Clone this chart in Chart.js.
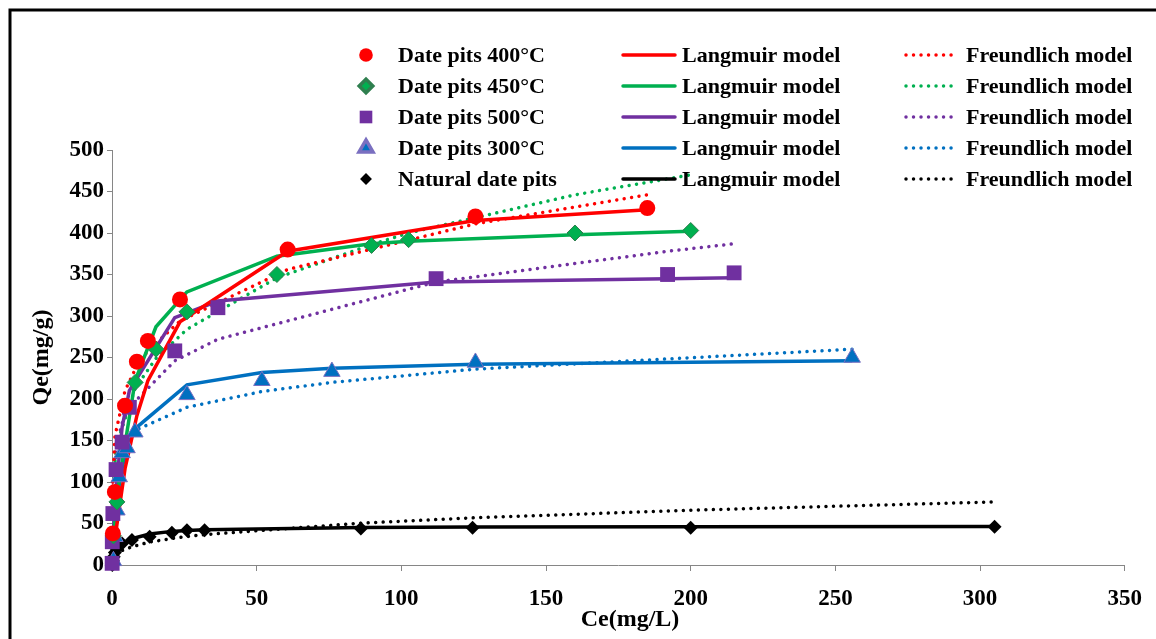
<!DOCTYPE html>
<html>
<head>
<title>Date pits adsorption isotherms</title>
<script src="https://cdn.jsdelivr.net/npm/chart.js"></script>
<style>
  body { margin: 0; background: #fff; }
  #wrap { width: 1156px; height: 639px; position: relative; }
</style>
</head>
<body>
<div id="wrap"><canvas id="plot"></canvas></div>
<script>
// series shown in the legend, row by row
const seriesNames = ['Date pits 400\u00B0C', 'Date pits 450\u00B0C', 'Date pits 500\u00B0C', 'Date pits 300\u00B0C', 'Natural date pits'];
const langLabel = 'Langmuir model';
const freuLabel = 'Freundlich model';

// Ce (mg/L) / Qe (mg/g), plus the two model curves at the same Ce
const ce400   = [0.3, 1, 4.5, 8.6, 12.4, 23.5, 60.7, 125.6, 185];
const qe400   = [38, 88, 192, 245, 270, 320, 380, 420, 430];
const lang400 = [10, 32, 116, 180, 222, 293, 378, 415, 428];
const freu400 = [100, 155, 210, 240, 258, 294, 356, 411, 446];

const ce450   = [0.5, 1.7, 8, 15.2, 25.9, 57, 89.7, 102.5, 160, 200];
const qe450   = [35, 76, 220, 260, 305, 350, 385, 392, 400, 403];
const lang450 = [29, 84, 222, 287, 329, 372, 387, 390, 398, 402];
const freu450 = [107, 146, 213, 249, 284, 346, 386, 400, 446, 470];

const ce500   = [0.05, 0.1, 0.3, 1.4, 3.5, 6, 21.7, 36.6, 112, 192, 215];
const qe500   = [2, 28, 62, 115, 148, 190, 258, 310, 345, 350, 352];
const lang500 = [4, 9, 25, 92, 166, 210, 298, 318, 341, 345, 346];
const freu500 = [73, 84, 105, 142, 171, 190, 246, 272, 341, 378, 387];

const ce300   = [0.5, 1, 1.7, 2.5, 3.5, 5.2, 7.9, 25.9, 51.8, 76, 125.6, 255.8];
const qe300   = [5, 34, 66, 106, 135, 141, 160, 205, 222, 233, 244, 250];
const lang300 = [28, 50, 74, 96, 117, 141, 164, 217, 232, 237, 242, 246];
const freu300 = [112, 123, 132, 138, 145, 153, 162, 190, 209, 220, 236, 260];

const ceNat   = [0.1, 0.3, 0.6, 1, 1.5, 3.5, 6.9, 13, 20.7, 25.9, 32, 86, 124.6, 200, 305];
const qeNat   = [0, 5, 10, 15, 20, 26, 30, 34, 39, 42, 42, 44, 45, 45, 46];
const langNat = [1.4, 3.9, 7.6, 10.8, 14.6, 23.5, 31.7, 37.4, 40.5, 41.6, 42.6, 45.2, 45.7, 46.2, 46.5];
const freuNat = [5.5, 7.9, 9.9, 11.7, 13.4, 17.5, 22, 27.6, 31.9, 34.3, 36.6, 50.4, 56.8, 66, 76];

const xTicks = [0, 50, 100, 150, 200, 250, 300, 350];
const yTicks = [0, 50, 100, 150, 200, 250, 300, 350, 400, 450, 500];

const colors = ['#FF0000', '#00B050', '#7030A0', '#0070C0', '#000000'];
const markers = [
  { style: 'circle',   r: 8,   border: '#FF0000', bw: 0 },
  { style: 'rectRot',  r: 8,   border: '#2f7f4f', bw: 1 },
  { style: 'rect',     r: 10.5, border: '#7030A0', bw: 0 },
  { style: 'triangle', r: 9.5, border: '#7a6fc0', bw: 1 },
  { style: 'rectRot',  r: 7,   border: '#000000', bw: 0 }
];

const ceAll   = [ce400, ce450, ce500, ce300, ceNat];
const qeAll   = [qe400, qe450, qe500, qe300, qeNat];
const langAll = [lang400, lang450, lang500, lang300, langNat];
const freuAll = [freu400, freu450, freu500, freu300, freuNat];

function pts(xs, ys) {
  return xs.map((x, i) => ({ x: x, y: ys[i] }));
}

const datasets = [];
// markers first so they are drawn on top
seriesNames.forEach((name, i) => {
  datasets.push({
    label: name,
    data: pts(ceAll[i], qeAll[i]),
    showLine: false,
    pointStyle: markers[i].style,
    pointRadius: markers[i].r,
    pointBackgroundColor: colors[i],
    pointBorderColor: markers[i].border,
    pointBorderWidth: markers[i].bw,
    clip: false
  });
});
seriesNames.forEach((name, i) => {
  datasets.push({
    label: langLabel,
    data: pts(ceAll[i], langAll[i]),
    showLine: true,
    borderColor: colors[i],
    borderWidth: 3.5,
    pointRadius: 0,
    tension: 0,
    clip: false
  });
});
seriesNames.forEach((name, i) => {
  datasets.push({
    label: freuLabel,
    data: pts(ceAll[i], freuAll[i]),
    showLine: true,
    borderColor: colors[i],
    borderWidth: 3.5,
    borderDash: [0.01, 7.5],
    borderCapStyle: 'round',
    pointRadius: 0,
    tension: 0,
    clip: false
  });
});

const serif = '"Liberation Serif", "Times New Roman", serif';

// frame, axis titles and the 3-column legend
const decor = {
  id: 'decor',
  beforeDraw(chart) {
    const ctx = chart.ctx;
    ctx.save();
    ctx.fillStyle = '#fff';
    ctx.fillRect(0, 0, chart.width, chart.height);
    ctx.strokeStyle = '#000';
    ctx.lineWidth = 3;
    ctx.beginPath();
    ctx.moveTo(10, chart.height);
    ctx.lineTo(10, 10);
    ctx.lineTo(chart.width, 10);
    ctx.stroke();
    ctx.restore();
  },
  afterDraw(chart) {
    const ctx = chart.ctx;
    const area = chart.chartArea;
    ctx.save();
    ctx.fillStyle = '#000';
    ctx.font = 'bold 24px ' + serif;
    ctx.textAlign = 'center';
    ctx.textBaseline = 'middle';
    ctx.fillText('Ce(mg/L)', 630, 620);
    ctx.translate(42, (area.top + area.bottom) / 2);
    ctx.rotate(-Math.PI / 2);
    ctx.fillText('Qe(mg/g)', 0, 0);
    ctx.restore();

    ctx.save();
    ctx.font = 'bold 22px ' + serif;
    ctx.textBaseline = 'middle';
    ctx.textAlign = 'left';
    seriesNames.forEach((name, i) => {
      const y = 55 + i * 31;
      const c = colors[i];
      const m = markers[i];
      ctx.fillStyle = c;
      ctx.strokeStyle = m.border;
      Chart.helpers.drawPoint(ctx, { pointStyle: m.style, radius: m.r * 0.85, borderWidth: m.bw, rotation: 0 }, 366, y);
      ctx.fillStyle = '#000';
      ctx.fillText(name, 398, y + 1);

      ctx.strokeStyle = c;
      ctx.lineWidth = 3.5;
      ctx.lineCap = 'round';
      ctx.setLineDash([]);
      ctx.beginPath();
      ctx.moveTo(623, y);
      ctx.lineTo(675, y);
      ctx.stroke();
      ctx.fillText(langLabel, 682, y + 1);

      ctx.setLineDash([0.01, 7.5]);
      ctx.beginPath();
      ctx.moveTo(906, y);
      ctx.lineTo(956, y);
      ctx.stroke();
      ctx.setLineDash([]);
      ctx.fillText(freuLabel, 966, y + 1);
    });
    ctx.restore();
  }
};

const axisGray = '#868686';
const tickFont = { family: serif, weight: 'bold', size: 23 };

new Chart(document.getElementById('plot'), {
  type: 'scatter',
  data: { datasets: datasets },
  options: {
    responsive: true,
    maintainAspectRatio: false,
    animation: false,
    layout: { padding: { top: 150, right: 30, left: 0, bottom: 0 } },
    plugins: {
      legend: { display: false },
      tooltip: { enabled: false }
    },
    scales: {
      x: {
        type: 'linear',
        min: 0,
        max: 350,
        afterBuildTicks: s => { s.ticks = xTicks.map(v => ({ value: v })); },
        afterFit: s => { s.height = 74; },
        ticks: { color: '#000', font: tickFont, padding: 14, maxRotation: 0 },
        grid: { drawOnChartArea: false, drawTicks: true, tickLength: 6, color: axisGray },
        border: { color: axisGray, width: 1 }
      },
      y: {
        type: 'linear',
        min: 0,
        max: 500,
        afterBuildTicks: s => { s.ticks = yTicks.map(v => ({ value: v })); },
        afterFit: s => { s.width = 112; },
        ticks: { color: '#000', font: tickFont, padding: 3 },
        grid: { drawOnChartArea: false, drawTicks: true, tickLength: 5, color: axisGray },
        border: { color: axisGray, width: 1 }
      }
    }
  },
  plugins: [decor]
});
</script>
</body>
</html>
